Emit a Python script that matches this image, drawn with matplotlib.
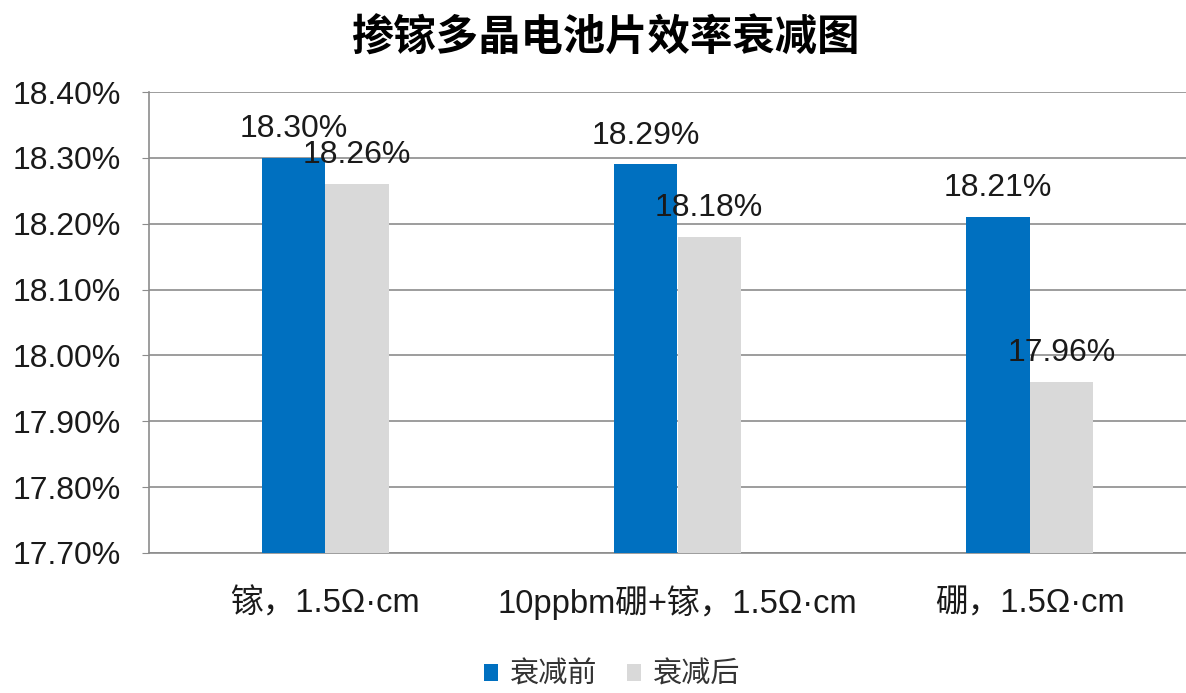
import matplotlib
matplotlib.use("Agg")
import matplotlib.pyplot as plt
import numpy as np

plt.rcParams['font.family'] = ['Liberation Sans', 'Noto Sans CJK SC', 'DejaVu Sans']

# efficiency data (%)
categories = ['镓，1.5Ω·cm', '10ppbm硼+镓，1.5Ω·cm', '硼，1.5Ω·cm']
before = [18.30, 18.29, 18.21]
after = [18.26, 18.18, 17.96]
series_names = ['衰减前', '衰减后']
yticks = [17.70, 17.80, 17.90, 18.00, 18.10, 18.20, 18.30, 18.40]

blue = '#0070C0'
grey = '#D9D9D9'
gridc = '#8C8C8C'

fig = plt.figure(figsize=(11.86, 6.93), dpi=100)
ax = fig.add_axes([149/1186, 140/693, 1057/1186, 461/693])

x = np.arange(len(categories))
w = 0.18
b1 = ax.bar(x - w/2, before, w, color=blue, label=series_names[0], zorder=3)
b2 = ax.bar(x + w/2, after, w, color=grey, label=series_names[1], zorder=3)

for bars, vals in ((b1, before), (b2, after)):
    for r, v in zip(bars, vals):
        ax.annotate('{:.2f}%'.format(v), xy=(r.get_x() + r.get_width()/2, v),
                    xytext=(0, 10), textcoords='offset points',
                    ha='center', va='bottom', fontsize=23, color='#1a1a1a', zorder=4)

ax.set_ylim(17.70, 18.40)
ax.set_xlim(-0.5, 2.5)
ax.set_yticks(yticks)
ax.set_yticklabels(['{:.2f}%'.format(t) for t in yticks], fontsize=23, color='#1a1a1a')
ax.set_xticks(x)
ax.set_xticklabels(categories, fontsize=23.5, color='#1a1a1a', va='baseline')
ax.tick_params(axis='x', length=0, pad=43)
ax.tick_params(axis='y', length=5, color=gridc, pad=15)

ax.grid(axis='y', color=gridc, linewidth=1.2, zorder=0)
for s in ('top', 'right'):
    ax.spines[s].set_visible(False)
ax.spines['left'].set_color(gridc)
ax.spines['bottom'].set_color(gridc)
ax.spines['left'].set_linewidth(1.2)
ax.spines['bottom'].set_linewidth(1.2)

fig.text(605/1186, 1 - 39/693, '掺镓多晶电池片效率衰减图', ha='center', va='center',
         fontsize=30.5, fontweight='bold', color='black')

fig.legend(handles=[b1, b2], labels=series_names, loc='center',
           bbox_to_anchor=(612/1186, 1 - 675/693), ncol=2, frameon=False,
           fontsize=21, handlelength=0.5, handleheight=0.5, handletextpad=0.4,
           columnspacing=1.0, labelcolor='#333333', borderpad=0.2)

fig.savefig('out.png', dpi=100)
